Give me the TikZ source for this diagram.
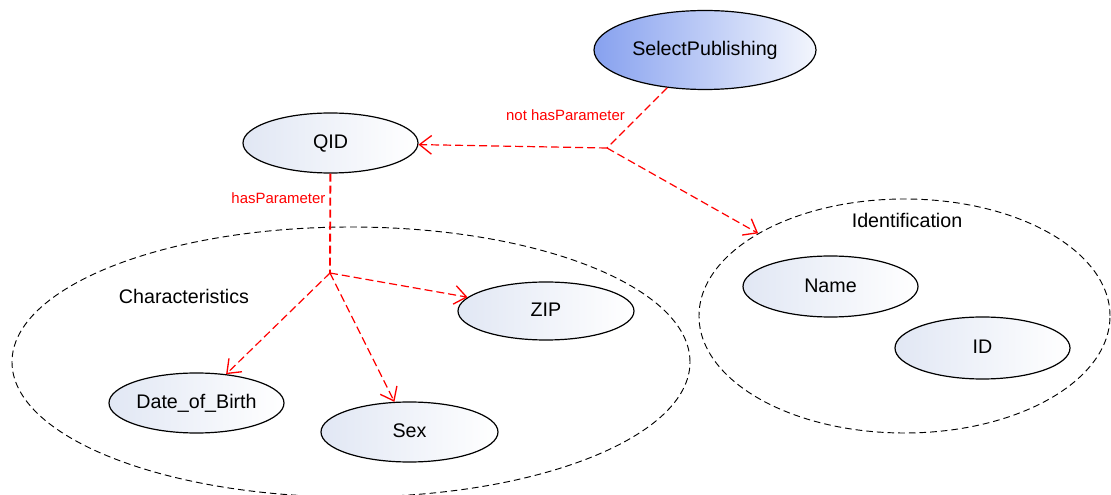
\documentclass[tikz,border=0pt]{standalone}
\usepackage{fontspec}
\setmainfont{Liberation Sans}
\usetikzlibrary{shapes.geometric,arrows.meta}
\definecolor{conceptleft}{HTML}{E1E7F4}
\definecolor{conceptright}{HTML}{FFFFFF}
\definecolor{queryleft}{HTML}{87A1EF}
\definecolor{queryright}{HTML}{F3F6FD}
\definecolor{relred}{HTML}{FF0000}
\tikzset{
  concept/.style={ellipse, draw=black, line width=0.9pt, inner sep=0pt,
    left color=conceptleft, right color=conceptright,
    font=\fontsize{14.75}{17}\selectfont, text height=1.6ex, text depth=0pt},
  query/.style={concept, left color=queryleft, right color=queryright},
  group/.style={ellipse, draw=black, line width=0.7pt, dash pattern=on 5pt off 3pt, inner sep=0pt},
  grouplabel/.style={font=\fontsize{14.75}{17}\selectfont},
  rel/.style={draw=relred, line width=0.9pt, dash pattern=on 6pt off 3pt},
  relarrow/.style={rel, -{Straight Barb[length=9pt,width=14pt,line width=1pt]}},
  rellabel/.style={text=relred, font=\fontsize{11.2}{13}\selectfont},
}
\begin{document}
\begin{tikzpicture}[x=0.75pt, y=-0.75pt]
  \useasboundingbox (0,0) rectangle (1111,495);

  % grouping ellipses
  \node[group, minimum width=678*0.75pt, minimum height=270*0.75pt] (chargroup) at (351,362) {};
  \node[grouplabel] (charlabel) at (184,296) {Characteristics};
  \node[group, minimum width=411*0.75pt, minimum height=234*0.75pt] (idgroup) at (904.5,316) {};
  \node[grouplabel] (idlabel) at (907,220) {Identification};

  % concepts
  \node[query, minimum width=222*0.75pt, minimum height=79*0.75pt] (sp) at (705,50) {SelectPublishing};
  \node[concept, minimum width=175*0.75pt, minimum height=60*0.75pt] (qid) at (330.5,143) {QID};
  \node[concept, minimum width=176*0.75pt, minimum height=58*0.75pt] (zip) at (546,311) {ZIP};
  \node[concept, minimum width=177*0.75pt, minimum height=60*0.75pt] (sex) at (409.5,432) {Sex};
  \node[concept, minimum width=175*0.75pt, minimum height=60*0.75pt] (dob) at (196.5,403) {Date\_of\_Birth};
  \node[concept, minimum width=175*0.75pt, minimum height=61*0.75pt] (name) at (830.5,286.5) {Name};
  \node[concept, minimum width=175*0.75pt, minimum height=62*0.75pt] (id) at (982.5,348) {ID};

  % branching points
  \coordinate (j1) at (607,148);
  \coordinate (j2) at (330,273);

  % not hasParameter
  \draw[rel] (sp) -- (j1);
  \draw[relarrow] (j1) -- (qid);
  \draw[relarrow] (j1) -- (idgroup);
  \node[rellabel] (nhp) at (565.5,115) {not hasParameter};

  % hasParameter
  \draw[rel, line width=1.4pt] (qid) -- (j2);
  \draw[relarrow] (j2) -- (zip);
  \draw[relarrow] (j2) -- (sex);
  \draw[relarrow] (j2) -- (dob);
  \node[rellabel, anchor=east] (hp) at (330,198) {hasParameter};
\end{tikzpicture}
\end{document}
